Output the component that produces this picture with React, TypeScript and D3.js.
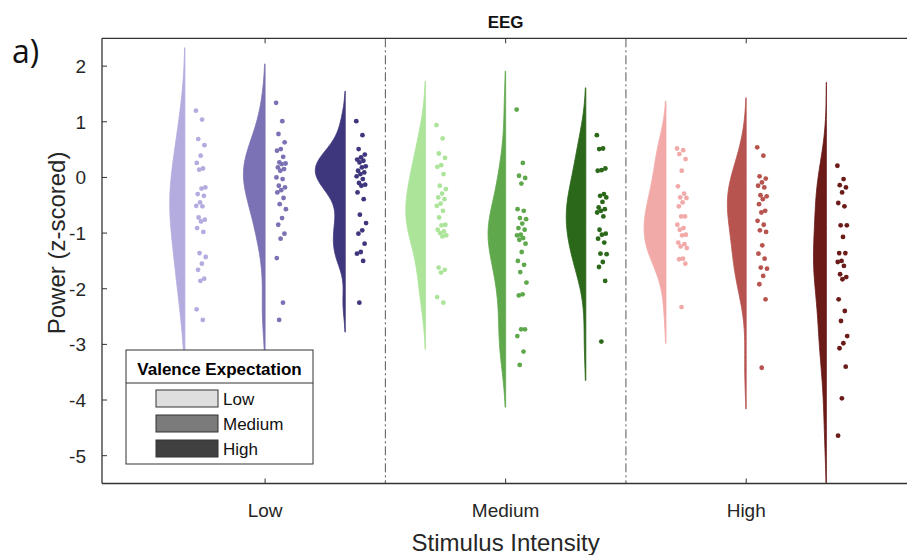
import { useEffect, useRef } from "react";
import * as d3 from "d3";

const intensities = ["Low", "Medium", "High"];
const expectations = ["Low", "Medium", "High"];
const yTicks = [-5, -4, -3, -2, -1, 0, 1, 2];

// z-scored power per subject
const lowIntLowExp = [1.2, 1.04, 0.69, 0.58, 0.39, 0.26, 0.16, 0.14, -0.18, -0.2, -0.3, -0.33, -0.45, -0.51, -0.52, -0.72, -0.76, -0.79, -0.91, -0.98, -1.36, -1.43, -1.55, -1.66, -1.82, -1.86, -2.37, -2.56];
const lowIntMedExp = [1.34, 1.01, 0.78, 0.63, 0.51, 0.48, 0.37, 0.27, 0.25, 0.24, 0.18, 0.15, 0.12, 0.0, -0.03, -0.15, -0.18, -0.23, -0.27, -0.37, -0.48, -0.57, -0.73, -0.85, -1.01, -1.1, -1.45, -2.25, -2.56];
const lowIntHighExp = [1.01, 0.76, 0.51, 0.41, 0.36, 0.32, 0.3, 0.27, 0.2, 0.18, 0.12, 0.09, 0.06, 0.02, -0.03, -0.1, -0.13, -0.15, -0.27, -0.39, -0.67, -0.82, -0.95, -1.01, -1.19, -1.34, -1.37, -1.5, -2.25];
const medIntLowExp = [0.94, 0.7, 0.43, 0.35, 0.22, 0.19, 0.06, -0.15, -0.21, -0.29, -0.36, -0.39, -0.47, -0.51, -0.6, -0.72, -0.85, -0.86, -0.94, -0.97, -1.0, -1.04, -1.06, -1.62, -1.66, -1.71, -2.15, -2.25];
const medIntMedExp = [1.22, 0.26, 0.03, -0.01, -0.11, -0.57, -0.6, -0.73, -0.75, -0.83, -0.91, -0.94, -1.03, -1.04, -1.09, -1.12, -1.19, -1.34, -1.5, -1.57, -1.7, -1.89, -2.1, -2.12, -2.73, -2.73, -2.85, -3.13, -3.37];
const medIntHighExp = [0.76, 0.52, 0.51, 0.16, 0.13, 0.12, -0.3, -0.33, -0.36, -0.44, -0.54, -0.57, -0.6, -0.63, -0.7, -0.94, -1.01, -1.03, -1.1, -1.17, -1.37, -1.38, -1.52, -1.61, -1.86, -2.95];
const highIntLowExp = [0.52, 0.49, 0.42, 0.33, 0.12, -0.16, -0.29, -0.36, -0.37, -0.45, -0.52, -0.7, -0.7, -0.85, -0.91, -0.94, -1.03, -1.04, -1.17, -1.2, -1.24, -1.27, -1.46, -1.47, -1.55, -2.33];
const highIntMedExp = [0.54, 0.39, 0.02, -0.02, -0.09, -0.15, -0.18, -0.32, -0.34, -0.39, -0.48, -0.6, -0.63, -0.78, -0.85, -0.95, -0.98, -1.22, -1.37, -1.46, -1.62, -1.64, -1.77, -1.92, -2.19, -3.42];
const highIntHighExp = [0.21, -0.03, -0.14, -0.18, -0.27, -0.46, -0.52, -0.86, -0.86, -1.07, -1.36, -1.36, -1.5, -1.52, -1.59, -1.74, -1.79, -1.83, -2.19, -2.4, -2.58, -2.85, -2.98, -3.07, -3.4, -3.97, -4.64];

// violin extent [lo, hi] in z units
const lowIntSupport = [[-3.4, 2.33], [-3.4, 2.04], [-2.78, 1.55]];
const medIntSupport = [[-3.09, 1.73], [-4.13, 1.91], [-3.65, 1.61]];
const highIntSupport = [[-2.98, 1.37], [-4.16, 1.43], [-5.6, 1.71]];

// kernel bandwidths (z units) for each violin
const lowIntBandwidth = [0.6, 0.44, 0.27];
const medIntBandwidth = [0.44, 0.48, 0.47];
const highIntBandwidth = [0.42, 0.47, 0.56];

const lowColors = ["#b4acdf", "#7a72b4", "#3f377e"];
const mediumColors = ["#ace49a", "#5fa84c", "#2b6819"];
const highColors = ["#f2aaa8", "#b85450", "#6b1b18"];
const legendColors = ["#dedede", "#7b7b7b", "#404040"];

const FONT = "'Liberation Sans', Arial, sans-serif";

function kde(values: number[], support: number[], bw: number) {
  const grid = d3.range(0, 121).map((i) => support[0] + (i / 120) * (support[1] - support[0]));
  return grid.map((v) => ({
    v,
    d: (d3.mean(values, (x) => Math.exp(-0.5 * ((v - x) / bw) ** 2)) as number) / (bw * Math.sqrt(2 * Math.PI)),
  }));
}

export default function App() {
  const ref = useRef<SVGSVGElement | null>(null);

  useEffect(() => {
    const svg = d3.select(ref.current);
    svg.selectAll("*").remove();

    const left = 102, right = 917, top = 38.3, bottom = 483.5;
    const x = d3.scaleLinear().domain([0.322, 3.71]).range([left, right]);
    const y = d3.scaleLinear().domain([-5.5, 2.5]).range([bottom, top]);

    const groups = [
      { series: [lowIntLowExp, lowIntMedExp, lowIntHighExp], support: lowIntSupport, bw: lowIntBandwidth, colors: lowColors },
      { series: [medIntLowExp, medIntMedExp, medIntHighExp], support: medIntSupport, bw: medIntBandwidth, colors: mediumColors },
      { series: [highIntLowExp, highIntMedExp, highIntHighExp], support: highIntSupport, bw: highIntBandwidth, colors: highColors },
    ];

    const violins = groups.flatMap((g, gi) =>
      g.series.map((vals, si) => ({
        pos: gi + 1 + (si - 1) / 3,
        vals,
        color: g.colors[si],
        dens: kde(vals, g.support[si], g.bw[si]),
      }))
    );
    const maxD = d3.max(violins, (v) => d3.max(v.dens, (p) => p.d)) as number;
    const w = d3.scaleLinear().domain([0, maxD]).range([0, 30]);

    svg
      .append("defs")
      .append("clipPath")
      .attr("id", "plotclip")
      .append("rect")
      .attr("x", left)
      .attr("y", top)
      .attr("width", right - left)
      .attr("height", bottom - top);

    // group dividers
    svg
      .selectAll("line.div")
      .data([1.5, 2.5])
      .join("line")
      .attr("x1", (d) => x(d))
      .attr("x2", (d) => x(d))
      .attr("y1", top)
      .attr("y2", bottom)
      .attr("stroke", "#555")
      .attr("stroke-width", 1)
      .attr("stroke-dasharray", "9,3,2,3");

    const plot = svg.append("g").attr("clip-path", "url(#plotclip)");

    const area = d3
      .area<{ v: number; d: number }>()
      .y((p) => y(p.v))
      .x0((p) => 0 - w(p.d))
      .x1(0)
      .curve(d3.curveBasis);

    violins.forEach((vl) => {
      const g = plot.append("g").attr("transform", `translate(${x(vl.pos)},0)`);
      g.append("path")
        .attr("d", area(vl.dens))
        .attr("fill", vl.color)
        .attr("stroke", vl.color)
        .attr("stroke-width", 0.8);
      g.selectAll("circle")
        .data(vl.vals)
        .join("circle")
        .attr("cx", (_, i) => 11 + 10 * ((i * 0.6180339887) % 1))
        .attr("cy", (d) => y(d))
        .attr("r", 2.4)
        .attr("fill", vl.color);
    });

    // axes box
    const axisColor = "#333";
    svg.append("line").attr("x1", left).attr("x2", left).attr("y1", top).attr("y2", bottom).attr("stroke", axisColor).attr("stroke-width", 1.3);
    svg.append("line").attr("x1", left).attr("x2", right).attr("y1", top).attr("y2", top).attr("stroke", axisColor).attr("stroke-width", 1.3);
    svg.append("line").attr("x1", left).attr("x2", right).attr("y1", bottom).attr("y2", bottom).attr("stroke", axisColor).attr("stroke-width", 1.3);

    svg
      .selectAll("line.yt")
      .data(yTicks)
      .join("line")
      .attr("x1", left)
      .attr("x2", left + 5)
      .attr("y1", (d) => y(d))
      .attr("y2", (d) => y(d))
      .attr("stroke", axisColor);
    svg
      .selectAll("text.yl")
      .data(yTicks)
      .join("text")
      .attr("x", 86)
      .attr("y", (d) => y(d) + 7)
      .attr("text-anchor", "end")
      .attr("font-family", FONT)
      .attr("font-size", 19)
      .attr("fill", "#262626")
      .text((d) => d);

    intensities.forEach((lab, i) => {
      const xp = x(i + 1);
      svg.append("line").attr("x1", xp).attr("x2", xp).attr("y1", bottom).attr("y2", bottom - 5).attr("stroke", axisColor);
      svg.append("line").attr("x1", xp).attr("x2", xp).attr("y1", top).attr("y2", top + 5).attr("stroke", axisColor);
      svg
        .append("text")
        .attr("x", xp)
        .attr("y", 517)
        .attr("text-anchor", "middle")
        .attr("font-family", FONT)
        .attr("font-size", 19)
        .attr("fill", "#262626")
        .text(lab);
    });

    svg
      .append("text")
      .attr("x", x(2))
      .attr("y", 551)
      .attr("text-anchor", "middle")
      .attr("font-family", FONT)
      .attr("font-size", 24)
      .attr("fill", "#262626")
      .text("Stimulus Intensity");

    svg
      .append("text")
      .attr("transform", `translate(65,${(top + bottom) / 2 - 18}) rotate(-90)`)
      .attr("text-anchor", "middle")
      .attr("font-family", FONT)
      .attr("font-size", 24)
      .attr("fill", "#262626")
      .text("Power (z-scored)");

    svg
      .append("text")
      .attr("x", x(2))
      .attr("y", 28)
      .attr("text-anchor", "middle")
      .attr("font-family", FONT)
      .attr("font-weight", "bold")
      .attr("font-size", 17)
      .attr("fill", "#111")
      .text("EEG");

    svg
      .append("text")
      .attr("x", 12)
      .attr("y", 63)
      .attr("font-family", "'Open Sans', sans-serif")
      .attr("font-size", 32)
      .attr("fill", "#111")
      .text("a)");

    // legend
    const lg = svg.append("g").attr("transform", "translate(126,350)");
    lg.append("rect").attr("width", 187).attr("height", 114).attr("fill", "#fff").attr("stroke", "#333").attr("stroke-width", 1);
    lg.append("line").attr("x1", 0).attr("x2", 187).attr("y1", 33).attr("y2", 33).attr("stroke", "#333");
    lg.append("text")
      .attr("x", 93.5)
      .attr("y", 25)
      .attr("text-anchor", "middle")
      .attr("font-family", FONT)
      .attr("font-weight", "bold")
      .attr("font-size", 17)
      .attr("fill", "#000")
      .text("Valence Expectation");
    expectations.forEach((lab, i) => {
      const yy = 40 + i * 25;
      lg.append("rect").attr("x", 30).attr("y", yy).attr("width", 62).attr("height", 17).attr("fill", legendColors[i]).attr("stroke", "#333");
      lg.append("text")
        .attr("x", 97)
        .attr("y", yy + 15)
        .attr("font-family", FONT)
        .attr("font-size", 17)
        .attr("fill", "#111")
        .text(lab);
    });
  }, []);

  return (
    <svg
      ref={ref}
      width={907}
      height={555}
      style={{ position: "absolute", left: 0, top: 0, background: "#fff" }}
    />
  );
}
